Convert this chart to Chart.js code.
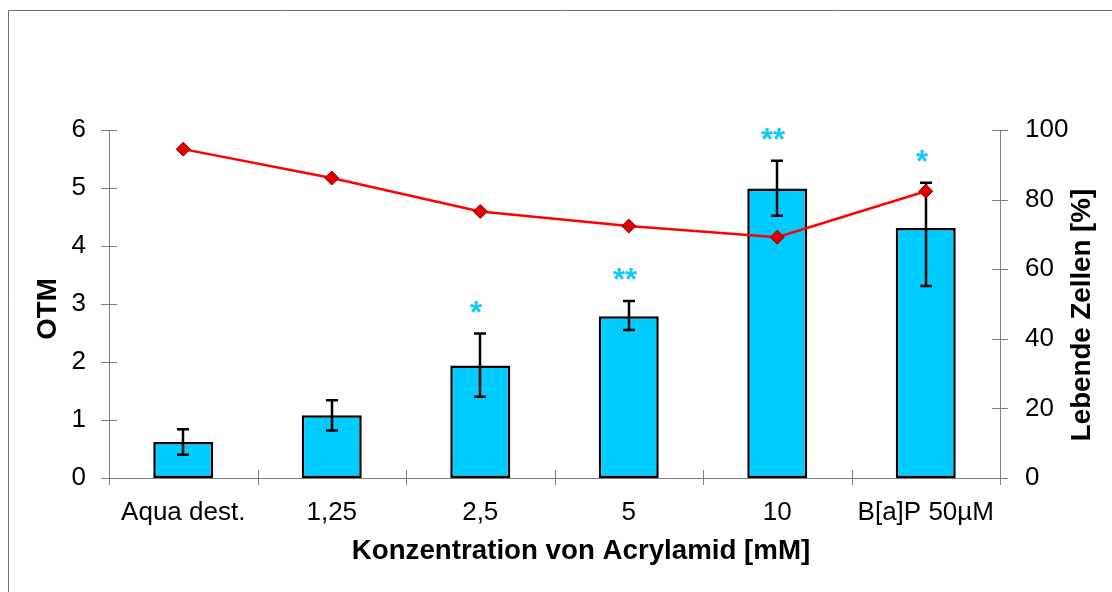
<!DOCTYPE html>
<html>
<head>
<meta charset="utf-8">
<script src="https://cdn.jsdelivr.net/npm/chart.js@4.4.0/dist/chart.umd.min.js"></script>
<style>
    html, body { margin: 0; padding: 0; background: #ffffff; }
    #wrap { width: 1112px; height: 592px; }
</style>
</head>
<body>
<div id="wrap"><canvas id="chart" width="1112" height="592"></canvas></div>
<script>
let categories = ["Aqua dest.", "1,25", "2,5", "5", "10", "B[a]P 50µM"];
let otmValues = [0.62, 1.08, 1.94, 2.79, 4.99, 4.31];
let otmErrorUp = [0.22, 0.26, 0.55, 0.26, 0.48, 0.78];
let otmErrorDown = [0.22, 0.26, 0.54, 0.24, 0.47, 1.00];
let viableCells = [94.5, 86.2, 76.6, 72.4, 69.2, 82.4];
let significance = ["", "", "*", "**", "**", "*"];

let xTitle = "Konzentration von Acrylamid [mM]";
let yTitle = "OTM";
let y1Title = "Lebende Zellen [%]";

const FONT = "'Liberation Sans', Arial, sans-serif";
const AXIS_COLOR = "#7f7f7f";
const BAR_COLOR = "#00ccff";
const STAR_COLOR = "#19c8f5";

function drawFrame(chart) {
    let ctx = chart.ctx;
    ctx.save();
    ctx.strokeStyle = "#6e6e6e";
    ctx.lineWidth = 1;
    ctx.beginPath();
    ctx.moveTo(8.5, chart.height);
    ctx.lineTo(8.5, 10.5);
    ctx.lineTo(chart.width, 10.5);
    ctx.stroke();
    ctx.restore();
}

function drawErrorBars(chart) {
    let ctx = chart.ctx;
    let x = chart.scales.x;
    let y = chart.scales.y;

    ctx.save();
    ctx.strokeStyle = "#000000";
    ctx.lineWidth = 2.5;

    for (let i = 0; i < otmValues.length; i++) {
        let px = Math.round(x.getPixelForValue(i));
        let top = y.getPixelForValue(otmValues[i] + otmErrorUp[i]);
        let bottom = y.getPixelForValue(otmValues[i] - otmErrorDown[i]);

        ctx.beginPath();
        ctx.moveTo(px, top);
        ctx.lineTo(px, bottom);
        ctx.moveTo(px - 6, top);
        ctx.lineTo(px + 6, top);
        ctx.moveTo(px - 6, bottom);
        ctx.lineTo(px + 6, bottom);
        ctx.stroke();

        if (significance[i]) {
            ctx.fillStyle = STAR_COLOR;
            ctx.font = "bold 31px " + FONT;
            ctx.textAlign = "center";
            ctx.textBaseline = "alphabetic";
            ctx.fillText(significance[i], px - 4, top - 11);
        }
    }
    ctx.restore();
}

function drawCrossTicks(chart) {
    let ctx = chart.ctx;
    let area = chart.chartArea;
    let x = chart.scales.x;
    let y = chart.scales.y;
    let y1 = chart.scales.y1;

    ctx.save();
    ctx.strokeStyle = AXIS_COLOR;
    ctx.lineWidth = 1;
    ctx.beginPath();

    for (let tick of y.ticks) {
        let py = Math.round(y.getPixelForValue(tick.value)) + 0.5;
        ctx.moveTo(area.left - 8, py);
        ctx.lineTo(area.left + 8, py);
    }
    for (let tick of y1.ticks) {
        let py = Math.round(y1.getPixelForValue(tick.value)) + 0.5;
        ctx.moveTo(area.right - 8, py);
        ctx.lineTo(area.right + 8, py);
    }
    for (let i = 0; i <= categories.length; i++) {
        let px = Math.round(x.getPixelForValue(i - 0.5)) + 0.5;
        ctx.moveTo(px, area.bottom - 8);
        ctx.lineTo(px, area.bottom + 7);
    }
    ctx.stroke();
    ctx.restore();
}

function drawTitles(chart) {
    let ctx = chart.ctx;
    let area = chart.chartArea;
    let middleY = (area.top + area.bottom) / 2;

    ctx.save();
    ctx.fillStyle = "#000000";
    ctx.font = "bold 27.7px " + FONT;
    ctx.textAlign = "center";
    ctx.textBaseline = "middle";

    ctx.fillText(xTitle, 581, 551);

    ctx.save();
    ctx.translate(48, middleY + 5);
    ctx.rotate(-Math.PI / 2);
    ctx.fillText(yTitle, 0, 0);
    ctx.restore();

    ctx.save();
    ctx.translate(1082, middleY + 11);
    ctx.rotate(-Math.PI / 2);
    ctx.fillText(y1Title, 0, 0);
    ctx.restore();

    ctx.restore();
}

let figurePlugin = {
    id: "figure",
    beforeDraw(chart) {
        drawFrame(chart);
    },
    afterDatasetDraw(chart, args) {
        if (args.index === 0) {
            drawErrorBars(chart);
        }
    },
    afterDraw(chart) {
        drawCrossTicks(chart);
        drawTitles(chart);
    }
};

let tickFont = { family: FONT, size: 26 };

let chart = new Chart(document.getElementById("chart").getContext("2d"), {
    type: "bar",
    data: {
        labels: categories,
        datasets: [
            {
                type: "bar",
                label: "OTM",
                data: otmValues,
                yAxisID: "y",
                backgroundColor: BAR_COLOR,
                borderColor: "#000000",
                borderWidth: 2.5,
                borderSkipped: false,
                barPercentage: 0.404,
                categoryPercentage: 1,
                order: 1
            },
            {
                type: "line",
                label: "Lebende Zellen",
                data: viableCells,
                yAxisID: "y1",
                borderColor: "#ff0000",
                borderWidth: 2.5,
                pointStyle: "rectRot",
                pointRadius: 7,
                pointBackgroundColor: "#e00000",
                pointBorderColor: "#8a0000",
                pointBorderWidth: 1,
                tension: 0,
                order: 0
            }
        ]
    },
    options: {
        responsive: false,
        animation: false,
        devicePixelRatio: 1,
        layout: { padding: { top: 130, left: 0, right: 0, bottom: 0 } },
        plugins: {
            legend: { display: false },
            tooltip: { enabled: false }
        },
        scales: {
            x: {
                grid: { display: false },
                border: { display: true, color: AXIS_COLOR, width: 1 },
                ticks: { color: "#000000", font: tickFont, padding: 11, maxRotation: 0, autoSkip: false },
                afterFit(scale) { scale.height = 114; }
            },
            y: {
                position: "left",
                min: 0,
                max: 6,
                grid: { display: false },
                border: { display: true, color: AXIS_COLOR, width: 1 },
                ticks: { stepSize: 1, color: "#000000", font: tickFont, padding: 15 },
                afterFit(scale) { scale.width = 109; }
            },
            y1: {
                position: "right",
                min: 0,
                max: 100,
                grid: { display: false },
                border: { display: true, color: AXIS_COLOR, width: 1 },
                ticks: { stepSize: 20, color: "#000000", font: tickFont, padding: 17 },
                afterFit(scale) { scale.width = 112; }
            }
        }
    },
    plugins: [figurePlugin]
});
</script>
</body>
</html>
